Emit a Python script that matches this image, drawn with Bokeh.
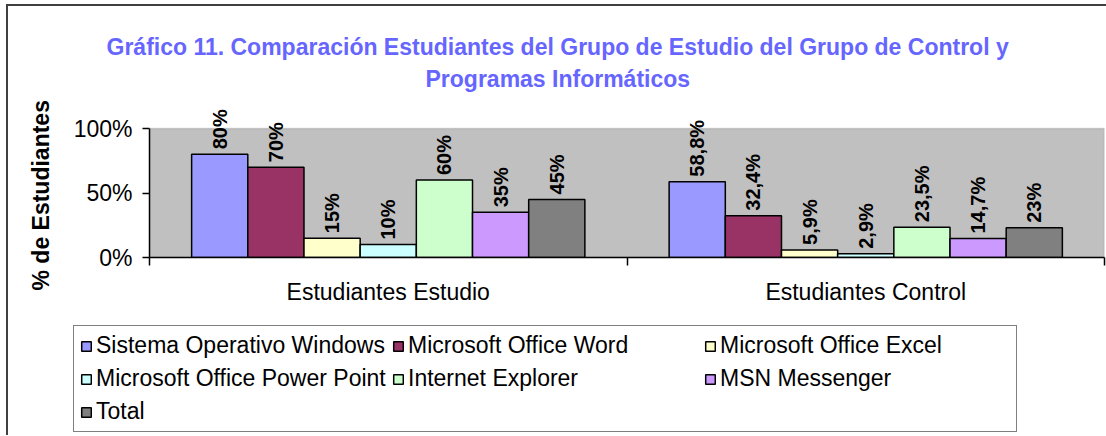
import math
from bokeh.plotting import figure
from bokeh.layouts import column
from bokeh.models import (ColumnDataSource, Range1d, FixedTicker, LabelSet, Title,
                          BoxAnnotation, Legend, LegendItem)
from bokeh.core.properties import value
from bokeh.embed import file_html
from bokeh.resources import INLINE

# ---------------- data ----------------
categories = ["Estudiantes Estudio", "Estudiantes Control"]
series = ["Sistema Operativo Windows", "Microsoft Office Word", "Microsoft Office Excel",
          "Microsoft Office Power Point", "Internet Explorer", "MSN Messenger", "Total"]
estudio = [80, 70, 15, 10, 60, 35, 45]
control = [58.8, 32.4, 5.9, 2.9, 23.5, 14.7, 23]
colors = ["#9999FF", "#993366", "#FFFFCC", "#CCFFFF", "#CCFFCC", "#CC99FF", "#808080"]
y_ticks = [0, 50, 100]
y_tick_labels = ["0%", "50%", "100%"]
title_line1 = "Gráfico 11. Comparación Estudiantes del Grupo de Estudio del Grupo de Control y"
title_line2 = "Programas Informáticos"
y_label = "% de Estudiantes"

# ---------------- geometry ----------------
CAT_W = 34   # width of one category (x units)
GAP = 3      # gap at each side of a group
BAR = 4      # width of one bar
Y_MAX = 125.6  # room above 100% for the rotated value labels

FONT = "Liberation Sans"
TITLE_COLOR = "#6666FF"


def fmt(v):
    return ("%g" % v).replace(".", ",") + "%"


p = figure(width=1098, height=311, output_backend="svg", toolbar_location=None,
           x_range=Range1d(0, CAT_W * len(categories)), y_range=Range1d(0, Y_MAX),
           min_border_left=139, min_border_right=2, min_border_top=89, min_border_bottom=60,
           background_fill_color="white", border_fill_color="white",
           outline_line_color=None)
p.frame_align = False

# grey plot area 0..100 %
area = BoxAnnotation(bottom=0, top=100, fill_color="#C0C0C0", fill_alpha=1,
                     line_color="#808080", line_width=1.5, level="underlay")
p.add_layout(area)

values = [estudio, control]
sources = []
lab_x, lab_y, lab_t = [], [], []
for j, name in enumerate(series):
    xs = [i * CAT_W + GAP + j * BAR + BAR / 2 for i in range(len(categories))]
    tops = [values[i][j] for i in range(len(categories))]
    src = ColumnDataSource(dict(x=xs, top=tops))
    sources.append(src)
    p.vbar(x="x", top="top", width=BAR, bottom=0, source=src,
           fill_color=colors[j], line_color="black", line_width=1.5)
    lab_x += xs
    lab_y += tops
    lab_t += [fmt(v) for v in tops]

labels = LabelSet(x="x", y="y", text="t",
                  source=ColumnDataSource(dict(x=lab_x, y=lab_y, t=lab_t)),
                  angle=math.pi / 2, text_align="left", text_baseline="middle", y_offset=5,
                  text_font=value(FONT), text_font_style="bold", text_font_size="20px",
                  text_color="black")
p.add_layout(labels)

# titles (closest to the frame first)
t2 = Title(text=title_line2, align="left", text_font=FONT, text_font_style="bold",
           text_font_size="23px", text_color=TITLE_COLOR, standoff=8, offset=276)
t1 = Title(text=title_line1, align="left", text_font=FONT, text_font_style="bold",
           text_font_size="23px", text_color=TITLE_COLOR, standoff=0, offset=-43)
p.add_layout(t2, "above")
p.add_layout(t1, "above")

# axes
p.xgrid.visible = False
p.ygrid.visible = False

xa = p.xaxis[0]
xa.ticker = FixedTicker(ticks=[i * CAT_W + CAT_W // 2 for i in range(len(categories))],
                        minor_ticks=[i * CAT_W for i in range(len(categories) + 1)])
xa.major_label_overrides = {i * CAT_W + CAT_W // 2: c for i, c in enumerate(categories)}
xa.major_tick_line_color = None
xa.major_tick_out = 0
xa.major_tick_in = 0
xa.minor_tick_line_color = "black"
xa.minor_tick_out = 8
xa.minor_tick_in = 0
xa.minor_tick_line_width = 1.5
xa.axis_line_color = "black"
xa.axis_line_width = 1.5
xa.major_label_standoff = 13
xa.major_label_text_font = FONT
xa.major_label_text_font_size = "23px"
xa.major_label_text_color = "black"

ya = p.yaxis[0]
ya.bounds = (0, 100)
ya.ticker = FixedTicker(ticks=y_ticks, minor_ticks=[])
ya.major_label_overrides = {t: l for t, l in zip(y_ticks, y_tick_labels)}
ya.major_tick_out = 7
ya.major_tick_in = 0
ya.major_tick_line_color = "black"
ya.major_tick_line_width = 1.5
ya.minor_tick_line_color = None
ya.axis_line_color = "black"
ya.axis_line_width = 1.5
ya.major_label_standoff = 10
ya.major_label_text_font = FONT
ya.major_label_text_font_size = "23px"
ya.major_label_text_color = "black"

# y axis title, centred on the 0..100 % area rather than the whole frame
ytitle = Title(text=y_label, align="left", text_font=FONT, text_font_style="bold",
               text_font_size="23px", text_color="black", standoff=34, offset=-33)
p.add_layout(ytitle, "left")

# ---------------- legend (own strip below the chart) ----------------
pl = figure(width=1098, height=118, output_backend="svg", toolbar_location=None,
            x_range=Range1d(0, 1), y_range=Range1d(0, 1),
            x_axis_location=None, y_axis_location=None,
            min_border=0, outline_line_color=None,
            background_fill_color="white", border_fill_color="white")
pl.frame_align = False
pl.xgrid.visible = False
pl.ygrid.visible = False
items = []
for j, name in enumerate(series):
    # hidden twins of the bars, only used to draw the legend swatches
    r = pl.vbar(x="x", top="top", width=BAR, bottom=0, source=sources[j],
                fill_color=colors[j], line_color="black", line_width=1.5, visible=False)
    items.append(LegendItem(label=name, renderers=[r]))

lg = Legend(items=items, orientation="horizontal", ncols=3, location=(65, 3),
            label_text_font=FONT, label_text_font_size="23px", label_text_color="black",
            glyph_width=12, glyph_height=12, label_standoff=4, label_width=290,
            spacing=6, padding=6, margin=0, click_policy="none",
            border_line_color="black", border_line_width=1.5,
            background_fill_color="white", background_fill_alpha=1)
pl.add_layout(lg, "center")

layout = column(p, pl, spacing=0)
layout.styles = {"margin-left": "6px", "margin-top": "4px",
                 "border-left": "2px solid #404040", "border-top": "2px solid #404040"}

open("out.html", "w").write(file_html(layout, INLINE))
